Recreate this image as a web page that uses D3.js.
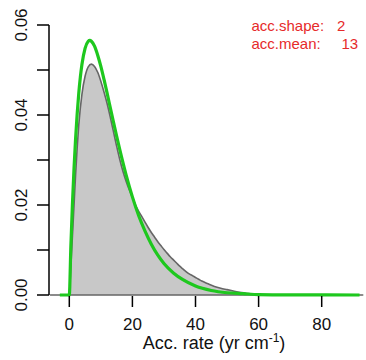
<!DOCTYPE html>
<html>
<head>
<meta charset="utf-8">
<script src="https://cdn.jsdelivr.net/npm/d3@7"></script>
<style>
  html, body { margin: 0; padding: 0; background: #fff; }
  svg { display: block; font-family: "Liberation Sans", Arial, sans-serif; }
</style>
</head>
<body>
<svg id="chart" width="366" height="360"></svg>
<script>
// Prior settings shown in the corner
const accShape = 2;
const accMean = 13;

// Posterior density of the accumulation rate (grey area)
const postRate = [-6, -0.5, 0, 0.5, 1, 1.5, 2, 2.5, 3, 4, 5, 6, 7, 8, 9, 10, 11, 12, 13, 14, 15, 16, 17, 18, 19, 20,
  21, 22, 23, 24, 25, 26, 27, 28, 29, 30, 31, 32, 33, 34, 35, 36, 37, 38, 39, 40, 41, 42, 44, 46, 48, 50, 52, 54, 56, 58, 60, 62, 93];
const postDens = [0, 0, 0.0004, 0.0065, 0.0132, 0.0200, 0.0268, 0.0328, 0.0378, 0.0446, 0.0486, 0.0507, 0.0513, 0.0508,
  0.0495, 0.0475, 0.0451, 0.0425, 0.0395, 0.0363, 0.0331, 0.0301, 0.0275, 0.0253, 0.0234, 0.0217,
  0.0200, 0.0186, 0.0174, 0.0162, 0.0150, 0.0139, 0.0129, 0.0119, 0.0110, 0.0101, 0.0093, 0.0085, 0.0078, 0.0071, 0.0064,
  0.0058, 0.0052, 0.0047, 0.0043, 0.0039, 0.0035, 0.0031, 0.0025, 0.0019, 0.0015, 0.0012, 0.0009, 0.0006, 0.0004, 0.0002,
  0.0001, 0, 0];

// Gamma prior density (green line)
const priorRate = [-3, 0, 0.5, 1, 1.5, 2, 2.5, 3, 3.5, 4, 5, 6, 6.5, 7, 8, 9, 10, 11, 12, 13, 14, 15, 16, 18, 20, 22, 24,
  26, 28, 30, 33, 36, 40, 45, 50, 55, 60, 70, 92];
const priorDens = [0, 0, 0.0110, 0.0203, 0.0282, 0.0348, 0.0403, 0.0448, 0.0484, 0.0512, 0.0548, 0.0564, 0.0566, 0.0564,
  0.0553, 0.0533, 0.0508, 0.0479, 0.0448, 0.0416, 0.0384, 0.0353, 0.0323, 0.0267, 0.0218, 0.0176, 0.0142,
  0.0113, 0.0089, 0.0070, 0.0049, 0.0034, 0.0020, 0.0010, 0.0005, 0.0003, 0.0001, 0.00003, 0];

// Axis ticks
const xTicks = [0, 20, 40, 60, 80];
const yTicks = [0, 0.01, 0.02, 0.03, 0.04, 0.05, 0.06];
const yTickLabels = ["0.00", "", "0.02", "", "0.04", "", "0.06"];

// Corner annotation rows
const infoLabels = ["acc.shape:", "acc.mean:"];
const infoValues = [accShape, accMean];

const svg = d3.select("#chart");
const x = d3.scaleLinear().domain([0, 80]).range([69.3, 321.7]);
const y = d3.scaleLinear().domain([0, 0.06]).range([295, 25]);

const post = postRate.map((r, i) => ({ r, d: postDens[i] }));
const prior = priorRate.map((r, i) => ({ r, d: priorDens[i] }));

// Posterior as a filled polygon with a dark outline
const area = d3.area()
  .x(p => x(p.r))
  .y0(y(0))
  .y1(p => y(p.d))
  .curve(d3.curveMonotoneX);
svg.append("path")
  .datum(post)
  .attr("d", area)
  .attr("fill", "#c8c8c8")
  .attr("stroke", "#666")
  .attr("stroke-width", 1.6)
  .attr("stroke-linejoin", "round");

// Prior curve
const line = d3.line()
  .x(p => x(p.r))
  .y(p => y(p.d))
  .curve(d3.curveMonotoneX);
svg.append("path")
  .datum(prior)
  .attr("d", line)
  .attr("fill", "none")
  .attr("stroke", "#1ec81e")
  .attr("stroke-width", 3.2)
  .attr("stroke-linejoin", "round");

// Y axis: line, ticks, rotated labels
const yAxis = svg.append("g").attr("transform", "translate(49,0)");
yAxis.append("line")
  .attr("x1", 0).attr("x2", 0)
  .attr("y1", y(0.06)).attr("y2", y(0))
  .attr("stroke", "#000").attr("stroke-width", 1.5);
yAxis.selectAll("line.tick").data(yTicks).join("line")
  .attr("class", "tick")
  .attr("x1", -12).attr("x2", 0)
  .attr("y1", d => y(d)).attr("y2", d => y(d))
  .attr("stroke", "#000").attr("stroke-width", 1.5);
yAxis.selectAll("text").data(yTicks).join("text")
  .attr("transform", d => `translate(-22.5,${y(d)}) rotate(-90)`)
  .attr("text-anchor", "middle")
  .attr("font-size", 17)
  .attr("fill", "#111")
  .text((d, i) => yTickLabels[i]);

// X axis: ticks and labels only
const xAxis = svg.append("g");
xAxis.selectAll("line").data(xTicks).join("line")
  .attr("x1", d => x(d)).attr("x2", d => x(d))
  .attr("y1", 296).attr("y2", 307)
  .attr("stroke", "#000").attr("stroke-width", 1.5);
xAxis.selectAll("text").data(xTicks).join("text")
  .attr("x", d => x(d))
  .attr("y", 330)
  .attr("text-anchor", "middle")
  .attr("font-size", 17)
  .attr("fill", "#111")
  .text(d => d);

// X axis title with superscript
const title = svg.append("text")
  .attr("x", 214)
  .attr("y", 349)
  .attr("text-anchor", "middle")
  .attr("font-size", 18)
  .attr("fill", "#111");
title.append("tspan").text("Acc. rate (yr cm");
title.append("tspan").attr("font-size", 12).attr("dy", -7).text("-1");
title.append("tspan").attr("dy", 7).text(")");

// Prior settings in red, top right
const info = svg.append("g").attr("font-size", 15).attr("fill", "#e62a2a");
info.selectAll("text.lab").data(infoLabels).join("text")
  .attr("class", "lab")
  .attr("x", 251.5)
  .attr("y", (d, i) => 30.5 + i * 18)
  .text(d => d);
info.selectAll("text.val").data(infoValues).join("text")
  .attr("class", "val")
  .attr("x", (d, i) => [337, 341.5][i])
  .attr("y", (d, i) => 30.5 + i * 18)
  .text(d => d);
</script>
</body>
</html>
